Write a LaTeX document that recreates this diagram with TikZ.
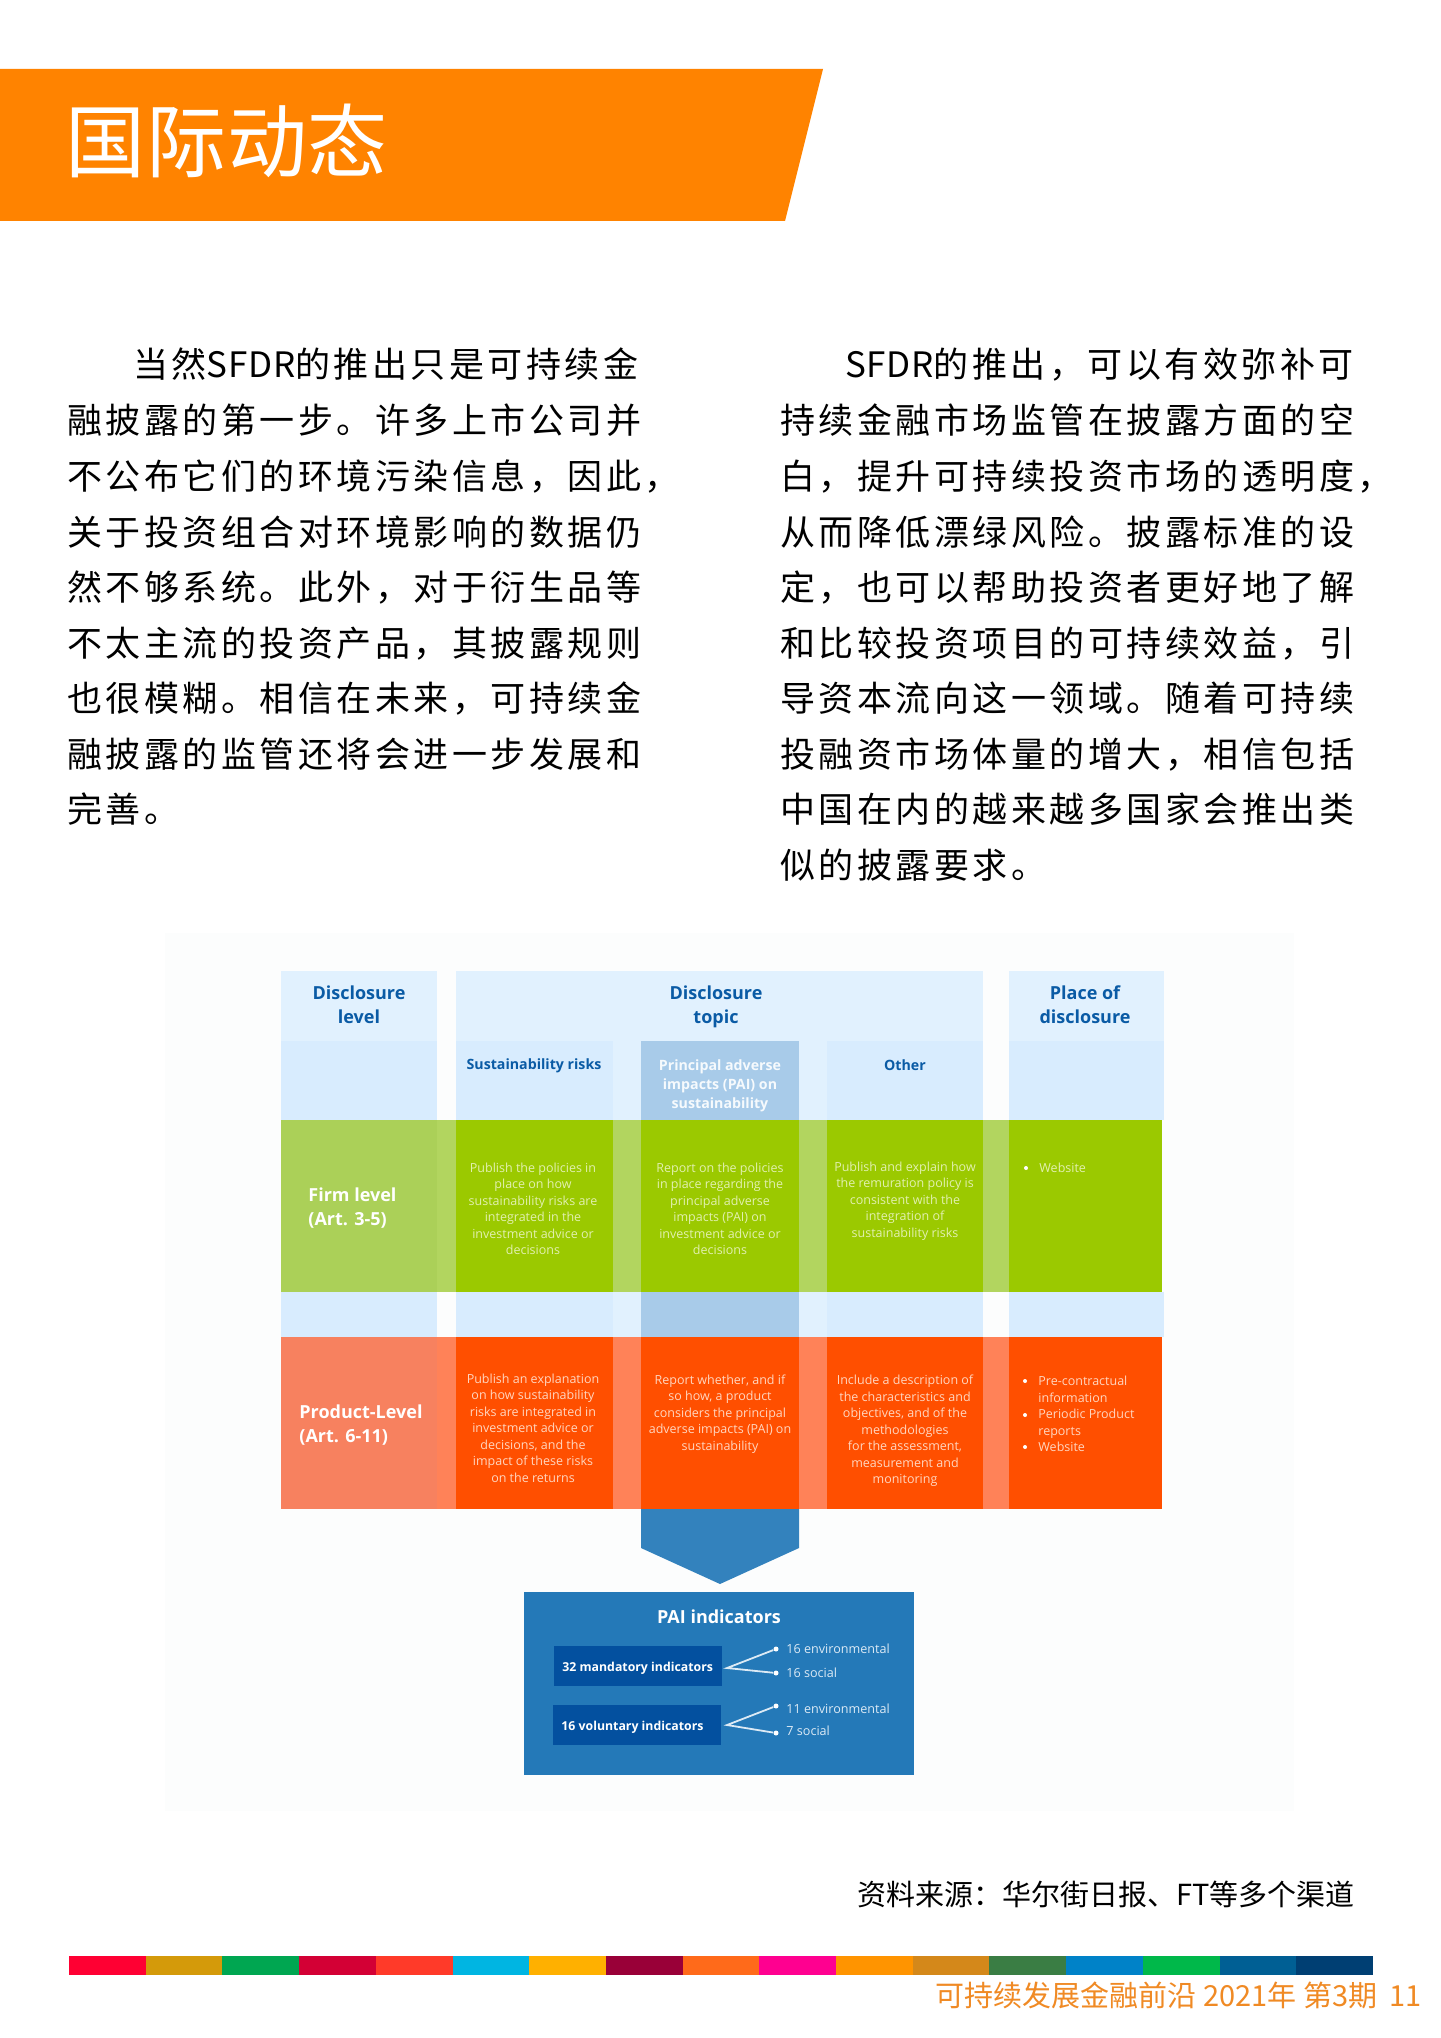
\documentclass[tikz,border=0pt]{standalone}
\usepackage{fontspec}
\setmainfont{Open Sans}
\newfontfamily\cjk{Noto Sans CJK SC}
\newfontfamily\bodyf[LetterSpace=10]{Noto Sans CJK SC}
\newfontfamily\latf[LetterSpace=2]{Noto Sans CJK SC}
\newfontfamily\titlef[LetterSpace=1]{Noto Sans CJK SC}
\newfontfamily\osans{Open Sans}
\newcommand{\lat}[1]{{\latf #1}}
\definecolor{hdrorange}{HTML}{FF8300}
\definecolor{paper}{HTML}{FCFDFD}
\definecolor{toprow}{HTML}{E1F1FE}
\definecolor{subrow}{HTML}{D8ECFE}
\definecolor{paicol}{HTML}{A8CBE9}
\definecolor{grn}{HTML}{9BC900}
\definecolor{grnleft}{HTML}{ABD058}
\definecolor{grngap}{HTML}{B2D55F}
\definecolor{org}{HTML}{FF4F00}
\definecolor{orgleft}{HTML}{F7815F}
\definecolor{orggap}{HTML}{FF8258}
\definecolor{arrowblue}{HTML}{3382BD}
\definecolor{paibox}{HTML}{2479B8}
\definecolor{paiin}{HTML}{03509F}
\definecolor{headblue}{HTML}{0A5BA5}
\definecolor{grntxt}{HTML}{E2F0B0}
\definecolor{orgtxt}{HTML}{FFD6C0}
\definecolor{paitxt}{HTML}{DCEAF5}
\definecolor{foot}{HTML}{F08A24}
\tikzset{
 x=0.5pt,y=-0.5pt,
 bodytxt/.style={anchor=base west,inner sep=0pt,font=\bodyf\fontsize{17.5pt}{17.5pt}\selectfont,text=black},
 headtxt/.style={inner sep=0pt,align=center,text=headblue,font=\osans\bfseries\fontsize{9pt}{12pt}\selectfont},
 subtxt/.style={inner sep=0pt,align=center,font=\osans\bfseries\fontsize{7.1pt}{9.6pt}\selectfont},
 sidetxt/.style={anchor=west,inner sep=0pt,align=left,text=white,font=\osans\bfseries\fontsize{9pt}{12pt}\selectfont},
 celltxt/.style={inner sep=0pt,align=center,font=\osans\fontsize{6.25pt}{8.25pt}\selectfont},
 listtxt/.style={anchor=west,inner sep=0pt,align=left,font=\osans\fontsize{6.25pt}{8.25pt}\selectfont},
 bulletdot/.style={circle,fill=#1,inner sep=0pt,minimum size=2pt},
 innerbox/.style={anchor=north west,inner sep=0pt,fill=paiin,minimum width=84pt,minimum height=20pt},
 innertxt/.style={anchor=west,inner sep=0pt,text=white,font=\osans\bfseries\fontsize{6.15pt}{7pt}\selectfont},
 countxt/.style={anchor=west,inner sep=0pt,text=paitxt,font=\osans\fontsize{6.3pt}{7pt}\selectfont},
 enddot/.style={circle,fill=white,inner sep=0pt,minimum size=2.5pt},
 branch/.style={draw=paitxt,line width=0.9pt},
}
\begin{document}
\begin{tikzpicture}
\useasboundingbox (0,0) rectangle (1440,2038);
\fill[white] (0,0) rectangle (1440,2038);
% header
\fill[hdrorange] (0,69) -- (823,69) -- (785,221) -- (0,221) -- cycle;
\node[anchor=base west,inner sep=0pt,text=white,font=\titlef\fontsize{40pt}{40pt}\selectfont] (title) at (65,172) {国际动态};
% left column
\node[bodytxt] (l1) at (133,378) {当然\lat{SFDR}的推出只是可持续金};
\node[bodytxt] (l2) at (67,433) {融披露的第一步。许多上市公司并};
\node[bodytxt] (l3) at (67,489) {不公布它们的环境污染信息，因此，};
\node[bodytxt] (l4) at (67,545) {关于投资组合对环境影响的数据仍};
\node[bodytxt] (l5) at (67,600) {然不够系统。此外，对于衍生品等};
\node[bodytxt] (l6) at (67,656) {不太主流的投资产品，其披露规则};
\node[bodytxt] (l7) at (67,711) {也很模糊。相信在未来，可持续金};
\node[bodytxt] (l8) at (67,767) {融披露的监管还将会进一步发展和};
\node[bodytxt] (l9) at (67,822) {完善。};
% right column
\node[bodytxt] (r1) at (845,378) {\lat{SFDR}的推出，可以有效弥补可};
\node[bodytxt] (r2) at (780,433) {持续金融市场监管在披露方面的空};
\node[bodytxt] (r3) at (780,489) {白，提升可持续投资市场的透明度，};
\node[bodytxt] (r4) at (780,545) {从而降低漂绿风险。披露标准的设};
\node[bodytxt] (r5) at (780,600) {定，也可以帮助投资者更好地了解};
\node[bodytxt] (r6) at (780,656) {和比较投资项目的可持续效益，引};
\node[bodytxt] (r7) at (780,711) {导资本流向这一领域。随着可持续};
\node[bodytxt] (r8) at (780,767) {投融资市场体量的增大，相信包括};
\node[bodytxt] (r9) at (780,822) {中国在内的越来越多国家会推出类};
\node[bodytxt] (r10) at (780,878) {似的披露要求。};
% figure paper
\fill[paper] (165,933) rectangle (1294,1811);
\begin{scope}[xshift=0.5pt]
% top rows
\fill[toprow] (280,971) rectangle (436,1041);
\fill[toprow] (455,971) rectangle (982,1120);
\fill[toprow] (1008,971) rectangle (1163,1041);
\fill[toprow] (455,1292) rectangle (982,1337);
% sub rows
\foreach \a/\b in {280/436,455/612,826/982,1008/1163}{
 \fill[subrow] (\a,1041) rectangle (\b,1120);
 \fill[subrow] (\a,1292) rectangle (\b,1337);
}
\fill[paicol] (640,1041) rectangle (798,1120);
\fill[paicol] (640,1292) rectangle (798,1337);
% green band
\fill[grngap] (280,1120) rectangle (1161,1292);
\fill[grnleft] (280,1120) rectangle (436,1292);
\foreach \a/\b in {455/612,640/798,826/982,1008/1161}{\fill[grn] (\a,1120) rectangle (\b,1292);}
% orange band
\fill[orggap] (280,1337) rectangle (1161,1509);
\fill[orgleft] (280,1337) rectangle (436,1509);
\foreach \a/\b in {455/612,640/798,826/982,1008/1161}{\fill[org] (\a,1337) rectangle (\b,1509);}
% arrow
\fill[arrowblue] (640,1509) -- (798,1509) -- (798,1548) -- (719,1584) -- (640,1548) -- cycle;
% PAI box
\fill[paibox] (523,1592) rectangle (913,1775);
% headings
\node[headtxt] (h1) at (358,1005) {Disclosure\\level};
\node[headtxt] (h2) at (715,1006.5) {Disclosure\\topic};
\node[headtxt] (h3) at (1084,1005) {Place of\\disclosure};
\node[subtxt,text=headblue] (s1) at (533,1066) {Sustainability risks};
\node[subtxt,text=white!90!paicol] (s2) at (719,1085.5) {Principal adverse\\impacts (PAI) on\\sustainability};
\node[subtxt,text=headblue] (s3) at (904,1065) {Other};
% green
\node[sidetxt] (firm) at (307,1208) {Firm level\\(Art. 3-5)};
\node[celltxt,text=grntxt] (g1) at (532,1209) {Publish the policies in\\place on how\\sustainability risks are\\integrated in the\\investment advice or\\decisions};
\node[celltxt,text=grntxt] (g2) at (719,1209) {Report on the policies\\in place regarding the\\principal adverse\\impacts (PAI) on\\investment advice or\\decisions};
\node[celltxt,text=grntxt] (g3) at (904,1201) {Publish and explain how\\the remuration policy is\\consistent with the\\integration of\\sustainability risks};
\node[bulletdot=white] (gb) at (1025,1168) {};
\node[listtxt,text=grntxt] (g4) at (1038,1168) {Website};
% orange
\node[sidetxt] (prod) at (298,1425) {Product-Level\\(Art. 6-11)};
\node[celltxt,text=orgtxt] (o1) at (532,1428) {Publish an explanation\\on how sustainability\\risks are integrated in\\investment advice or\\decisions, and the\\impact of these risks\\on the returns};
\node[celltxt,text=orgtxt] (o2) at (719,1414) {Report whether, and if\\so how, a product\\considers the principal\\adverse impacts (PAI) on\\sustainability};
\node[celltxt,text=orgtxt] (o3) at (904,1431) {Include a description of\\the characteristics and\\objectives, and of the\\methodologies\\for the assessment,\\measurement and\\monitoring};
\node[bulletdot=white] (ob1) at (1024,1381) {};
\node[bulletdot=white] (ob2) at (1024,1415) {};
\node[bulletdot=white] (ob3) at (1024,1447) {};
\node[listtxt,text=orgtxt] (o4) at (1037,1414) {Pre-contractual\\information\\Periodic Product\\reports\\Website};
% PAI
\node[inner sep=0pt,text=white,font=\osans\bfseries\fontsize{9pt}{11pt}\selectfont] (pait) at (718,1617) {PAI indicators};
\node[innerbox] (mand) at (553,1646) {};
\node[innerbox] (vol) at (552,1705) {};
\node[innertxt] (mandt) at (561,1668.5) {32 mandatory indicators};
\node[innertxt] (volt) at (560,1727.5) {16 voluntary indicators};
\coordinate (mo) at (726,1668);
\coordinate (vo) at (726,1725);
\node[enddot] (d1) at (775,1649) {};
\node[enddot] (d2) at (775,1673) {};
\node[enddot] (d3) at (775,1706) {};
\node[enddot] (d4) at (775,1733) {};
\draw[branch] (d1) -- (mo) -- (d2);
\draw[branch] (d3) -- (vo) -- (d4);
\node[countxt] (c1) at (785,1649) {16 environmental};
\node[countxt] (c2) at (785,1673) {16 social};
\node[countxt] (c3) at (785,1709) {11 environmental};
\node[countxt] (c4) at (785,1731) {7 social};
\end{scope}
% source
\node[anchor=base east,inner sep=0pt,font=\cjk\fontsize{14.5pt}{15pt}\selectfont] (src) at (1355,1905) {资料来源：华尔街日报、FT等多个渠道};
% colour bar
\foreach \i/\c in {0/FF0033,1/D49A0A,2/00A651,3/D30035,4/FF3A29,5/00B5E2,6/FFB000,7/990038,8/FF6A1A,9/FF0090,10/FF9400,11/D4881A,12/3A7D44,13/0082C8,14/00B84A,15/005F94,16/003F73}{
 \definecolor{barc}{HTML}{\c}
 \fill[barc] ({69+\i*76.7},1956) rectangle ({69+(\i+1)*76.7},1975);
}
% footer
\node[anchor=base east,inner sep=0pt,text=foot,font=\cjk\fontsize{14.5pt}{15pt}\selectfont] (ft) at (1422,2006) {可持续发展金融前沿 2021年 第3期\hspace{6pt}11};
\end{tikzpicture}
\end{document}
